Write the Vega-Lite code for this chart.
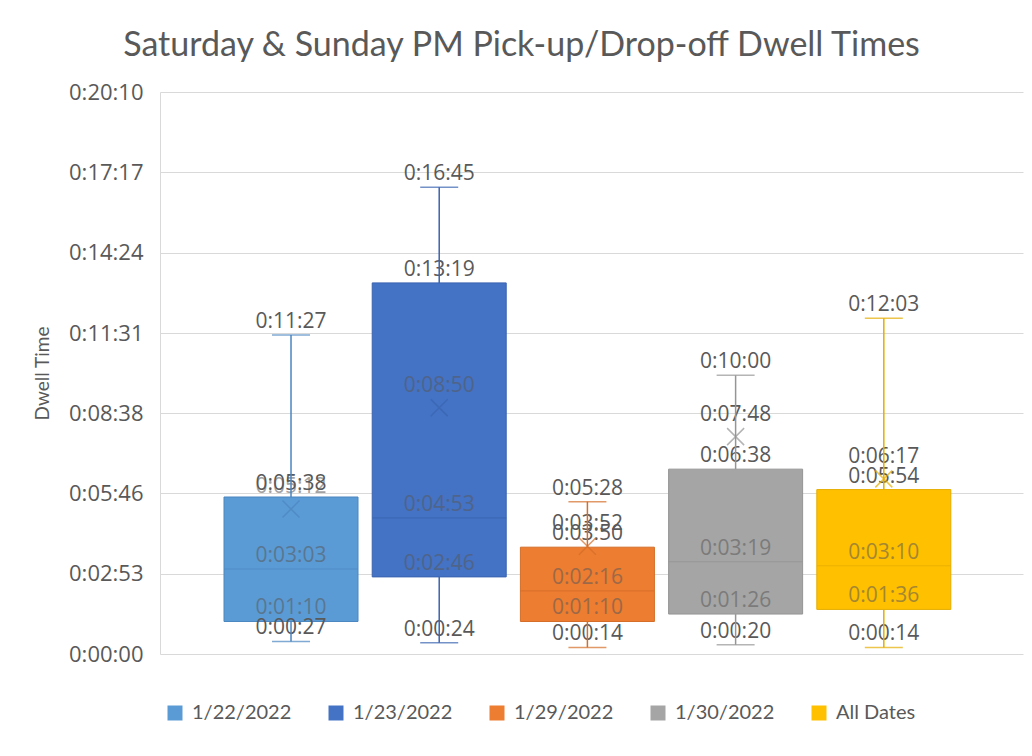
{
  "$schema": "https://vega.github.io/schema/vega-lite/v6.json",
  "width": 863,
  "height": 562,
  "autosize": {"type": "none"},
  "padding": {"left": 160, "top": 92, "right": 9, "bottom": 102},
  "background": "white",
  "title": {"text": "Saturday & Sunday PM Pick-up/Drop-off  Dwell Times", "font": "Lato", "fontSize": 34, "fontWeight": "normal", "color": "#595959", "offset": 18, "dx": -70},
  "config": {"view": {"stroke": null}},
  "data": {"values": [
    {"series": "1/22/2022", "min": 27, "q1": 70, "median": 183, "q3": 338, "max": 687, "mean": 312},
    {"series": "1/23/2022", "min": 24, "q1": 166, "median": 293, "q3": 799, "max": 1005, "mean": 530},
    {"series": "1/29/2022", "min": 14, "q1": 70, "median": 136, "q3": 230, "max": 328, "mean": 232},
    {"series": "1/30/2022", "min": 20, "q1": 86, "median": 199, "q3": 398, "max": 600, "mean": 468},
    {"series": "All Dates", "min": 14, "q1": 96, "median": 190, "q3": 354, "max": 723, "mean": 377}
  ]},
  "encoding": {
    "x": {"field": "series", "type": "nominal", "sort": null, "axis": null,
      "scale": {"paddingInner": 0.0958, "paddingOuter": 0.4595, "align": 0.47}}
  },
  "layer": [
    {
      "mark": {"type": "bar", "strokeWidth": 1},
      "encoding": {
        "y": {"field": "q1", "type": "quantitative", "title": "Dwell Time",
          "scale": {"domain": [0, 1210], "nice": false},
          "axis": {"values": [0, 173, 346, 518, 691, 864, 1037, 1210],
            "labelExpr": "utcFormat(datum.value*1000,'%-H:%M:%S')",
            "title": "Dwell Time", "titleFont": "Lato", "titleFontSize": 19, "titleFontWeight": "normal", "titleColor": "#595959", "titlePadding": 16,
            "labelFont": "Open Sans", "labelFontSize": 22, "labelColor": "#595959", "labelPadding": 17,
            "ticks": false, "domainColor": "#d9d9d9", "gridColor": "#d9d9d9", "grid": true}},
        "y2": {"field": "q3"},
        "fill": {"field": "series", "type": "nominal", "sort": null,
          "scale": {"domain": ["1/22/2022", "1/23/2022", "1/29/2022", "1/30/2022", "All Dates"],
            "range": ["#5B9BD5", "#4472C4", "#ED7D31", "#A5A5A5", "#FFC000"]},
          "legend": {"orient": "none", "legendX": 5, "legendY": 611, "direction": "horizontal", "title": null,
            "symbolType": "square", "symbolSize": 225, "symbolStrokeWidth": 0, "labelFont": "Lato", "labelFontSize": 20,
            "labelColor": "#595959", "columnPadding": 34, "labelOffset": 7}},
        "stroke": {"field": "series", "type": "nominal", "sort": null,
          "scale": {"domain": ["1/22/2022", "1/23/2022", "1/29/2022", "1/30/2022", "All Dates"],
            "range": ["#4A86C0", "#3A64B0", "#D46E28", "#959595", "#E5AD00"]},
          "legend": null}
      }
    },
    {
      "transform": [
        {"fold": ["min", "q1", "median", "q3", "max"], "as": ["stat", "value"]},
        {"calculate": "utcFormat(datum.value*1000,'%-H:%M:%S')", "as": "label"}
      ],
      "mark": {"type": "text", "font": "Open Sans", "fontSize": 21, "dy": -13, "color": "#595959"},
      "encoding": {
        "y": {"field": "value", "type": "quantitative", "title": "Dwell Time"},
        "text": {"field": "label"},
        "opacity": {"condition": {"test": "datum.value >= datum.q1 && datum.value < datum.q3", "value": 0.55}, "value": 1}
      }
    },
    {
      "transform": [
        {"calculate": "utcFormat(datum.mean*1000,'%-H:%M:%S')", "as": "label"}
      ],
      "mark": {"type": "text", "font": "Open Sans", "fontSize": 21, "dy": -22, "color": "#595959"},
      "encoding": {
        "y": {"field": "mean", "type": "quantitative", "title": "Dwell Time"},
        "text": {"field": "label"},
        "opacity": {"condition": {"test": "datum.mean >= datum.q1 && datum.mean < datum.q3", "value": 0.55}, "value": 1}
      }
    },
    {
      "mark": {"type": "rule", "strokeWidth": 1.5},
      "encoding": {
        "y": {"field": "min", "type": "quantitative", "title": "Dwell Time"},
        "y2": {"field": "q1"},
        "stroke": {"field": "series", "type": "nominal", "sort": null, "legend": null}
      }
    },
    {
      "mark": {"type": "rule", "strokeWidth": 1.5},
      "encoding": {
        "y": {"field": "q3", "type": "quantitative", "title": "Dwell Time"},
        "y2": {"field": "max"},
        "stroke": {"field": "series", "type": "nominal", "sort": null, "legend": null}
      }
    },
    {
      "mark": {"type": "tick", "size": 38, "thickness": 1.5},
      "encoding": {
        "y": {"field": "min", "type": "quantitative", "title": "Dwell Time"},
        "color": {"field": "series", "type": "nominal", "sort": null, "legend": null,
          "scale": {"domain": ["1/22/2022", "1/23/2022", "1/29/2022", "1/30/2022", "All Dates"],
            "range": ["#4A86C0", "#3A64B0", "#D46E28", "#959595", "#E5AD00"]}}
      }
    },
    {
      "mark": {"type": "tick", "size": 38, "thickness": 1.5},
      "encoding": {
        "y": {"field": "max", "type": "quantitative", "title": "Dwell Time"},
        "color": {"field": "series", "type": "nominal", "sort": null, "legend": null}
      }
    },
    {
      "mark": {"type": "tick", "size": 134, "thickness": 1.2},
      "encoding": {
        "y": {"field": "median", "type": "quantitative", "title": "Dwell Time"},
        "color": {"field": "series", "type": "nominal", "sort": null, "legend": null}
      }
    },
    {
      "mark": {"type": "point", "shape": "M-1,-1L1,1M-1,1L1,-1", "filled": false, "size": 289, "strokeWidth": 1.5},
      "encoding": {
        "y": {"field": "mean", "type": "quantitative", "title": "Dwell Time"},
        "stroke": {"field": "series", "type": "nominal", "sort": null, "legend": null}
      }
    }
  ]
}
